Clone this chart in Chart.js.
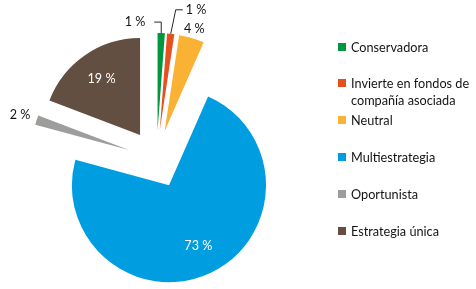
<!DOCTYPE html>
<html>
<head>
<meta charset="utf-8">
<script src="https://cdn.jsdelivr.net/npm/chart.js@4.4.0/dist/chart.umd.min.js"></script>
<style>
  html, body { margin: 0; padding: 0; background: #fff; }
  #wrap { position: relative; width: 476px; height: 289px; overflow: hidden; }
  #pie { position: absolute; left: 0; top: 0; }
  #legend { position: absolute; left: 338px; top: 0; font-family: Lato, sans-serif; font-size: 12.7px; color: #141414; }
  .item { position: absolute; left: 0; width: 138px; line-height: 17px; }
  .box { position: absolute; left: 0; top: 4px; width: 8px; height: 8px; }
  .txt { position: absolute; left: 13px; width: 125px; }
</style>
</head>
<body>
<div id="wrap">
  <canvas id="pie" width="476" height="289"></canvas>
  <div id="legend"></div>
</div>
<script>
// Data (share of funds, %)
const categories = ["Conservadora", "Invierte en fondos de compañía asociada", "Neutral", "Multiestrategia", "Oportunista", "Estrategia única"];
const shares = [1.2, 1.2, 4.2, 72.6, 1.6, 19.2];
const sliceColors = ["#00973f", "#e5501e", "#f9b233", "#009ee0", "#9d9d9c", "#634e42"];

// Every slice is pulled out from the centre by the same distance
const EXPLODE = 29;

// Where each percentage label sits, relative to its slice
const labelPlace = [
  { r: 1.0, leader: [0, -11, -7] },
  { r: 1.0, leader: [5, -24, 7] },
  { r: 1.1 },
  { r: 0.7, inside: true },
  { r: 1.18 },
  { r: 0.7, inside: true }
];

// Build the legend
const legend = document.getElementById("legend");
categories.forEach((name, i) => {
  const item = document.createElement("div");
  item.className = "item";
  item.style.top = (38.5 + i * 36.8) + "px";
  const box = document.createElement("div");
  box.className = "box";
  box.style.background = sliceColors[i];
  const txt = document.createElement("div");
  txt.className = "txt";
  txt.textContent = name;
  item.appendChild(box);
  item.appendChild(txt);
  legend.appendChild(item);
});

// Draw each arc shifted outwards along its middle angle
const explodePlugin = {
  id: "explode",
  beforeDatasetDraw(chart, args) {
    const ctx = chart.ctx;
    args.meta.data.forEach((arc) => {
      const mid = (arc.startAngle + arc.endAngle) / 2;
      ctx.save();
      ctx.translate(Math.cos(mid) * EXPLODE, Math.sin(mid) * EXPLODE);
      arc.draw(ctx);
      ctx.restore();
    });
    return false;
  }
};

// Percentage labels, with leader lines for the two thin slices
const labelPlugin = {
  id: "pctLabels",
  afterDatasetsDraw(chart) {
    const ctx = chart.ctx;
    const arcs = chart.getDatasetMeta(0).data;
    ctx.save();
    ctx.font = "12.6px Lato, sans-serif";
    ctx.textBaseline = "middle";
    arcs.forEach((arc, i) => {
      const mid = (arc.startAngle + arc.endAngle) / 2;
      const ax = arc.x + Math.cos(mid) * EXPLODE;
      const ay = arc.y + Math.sin(mid) * EXPLODE;
      const place = labelPlace[i];
      const text = Math.round(shares[i]) + " %";
      const px = ax + Math.cos(mid) * arc.outerRadius * place.r;
      const py = ay + Math.sin(mid) * arc.outerRadius * place.r;
      if (place.leader) {
        const [ex, ey, hx] = place.leader;
        ctx.strokeStyle = "#262626";
        ctx.lineWidth = 1;
        ctx.beginPath();
        ctx.moveTo(px, py);
        ctx.lineTo(px + ex, py + ey);
        ctx.lineTo(px + ex + hx, py + ey);
        ctx.stroke();
        ctx.fillStyle = "#141414";
        ctx.textAlign = hx < 0 ? "right" : "left";
        ctx.fillText(text, px + ex + hx + (hx < 0 ? -9 : 3), py + ey);
      } else {
        ctx.fillStyle = place.inside ? "#ffffff" : "#141414";
        ctx.textAlign = "center";
        ctx.fillText(text, px, py);
      }
    });
    ctx.restore();
  }
};

new Chart(document.getElementById("pie"), {
  type: "pie",
  data: {
    labels: categories,
    datasets: [{
      data: shares,
      backgroundColor: sliceColors,
      borderWidth: 0,
      clip: false
    }]
  },
  options: {
    responsive: false,
    animation: false,
    radius: 97,
    layout: { padding: { left: 0, right: 163, top: 29, bottom: 0 } },
    plugins: {
      legend: { display: false },
      tooltip: { enabled: false }
    }
  },
  plugins: [explodePlugin, labelPlugin]
});
</script>
</body>
</html>
